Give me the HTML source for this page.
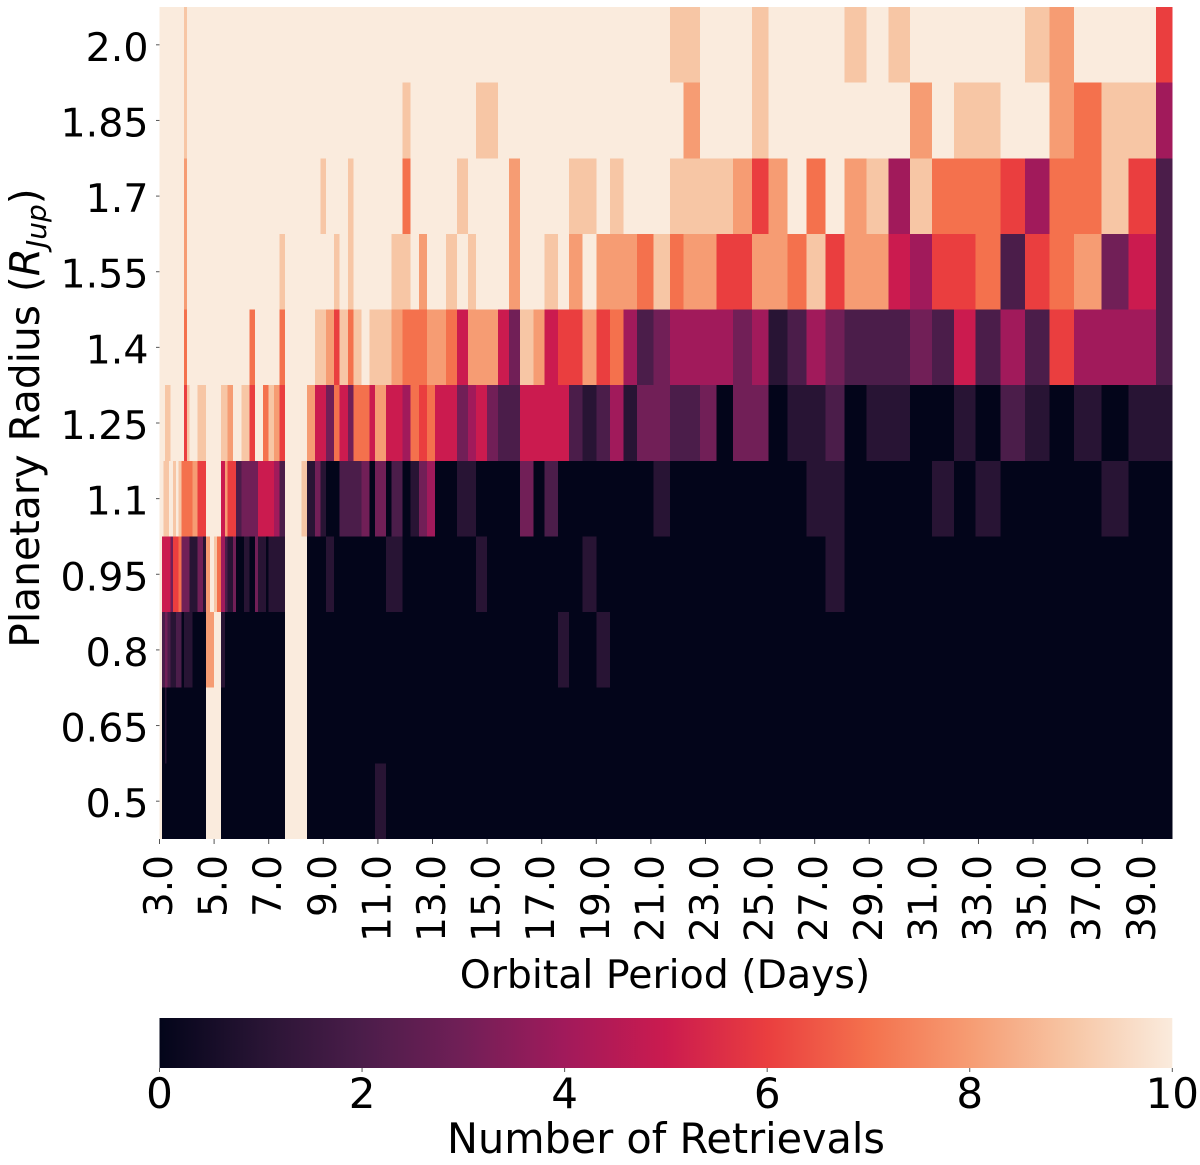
<!DOCTYPE html>
<html>
<head>
<meta charset="utf-8">
<title>Retrievals heatmap</title>
<style>
html,body{margin:0;padding:0;background:#fff;}
svg{display:block;}
text{font-family:"DejaVu Sans","Liberation Sans",sans-serif;fill:#000;}
</style>
</head>
<body>
<svg id="chart" xmlns="http://www.w3.org/2000/svg" width="1200" height="1165" viewBox="0 0 1200 1165">
  <defs>
    <linearGradient id="cbar-gradient" x1="0" y1="0" x2="1" y2="0"></linearGradient>
  </defs>
  <rect x="0" y="0" width="1200" height="1165" fill="#ffffff"/>
  <g id="cells" shape-rendering="crispEdges"></g>
  <g id="xticks"></g>
  <g id="yticks"></g>
  <text x="665" y="988" font-size="39.4" text-anchor="middle">Orbital Period (Days)</text>
  <text transform="translate(39,418) rotate(-90)" font-size="40.7" text-anchor="middle">Planetary Radius (<tspan font-style="italic">R</tspan><tspan font-style="italic" font-size="28" dy="7">Jup</tspan><tspan dy="-7">)</tspan></text>
  <rect id="cbar" x="159.5" y="1018" width="1012.8" height="50" fill="url(#cbar-gradient)"/>
  <g id="cticks"></g>
  <text x="666" y="1153" font-size="41.4" text-anchor="middle">Number of Retrievals</text>
</svg>
<script>
// Chart data: each row lists [period where a run starts, number of retrievals]; a run ends where the next begins.
const radiusLabels = ["2.0","1.85","1.7","1.55","1.4","1.25","1.1","0.95","0.8","0.65","0.5"];
const periodTicks = [3,5,7,9,11,13,15,17,19,21,23,25,27,29,31,33,35,37,39];
const colorbarTicks = [0,2,4,6,8,10];
const periodStart = 3;
const periodEnd = 40.1;
const valueMax = 10;

const row2p0 = [[3,10],[3.9,9],[4,10],[21.7,9],[22.8,10],[24.7,9],[25.3,10],[28.1,9],[28.9,10],[29.7,9],[30.5,10],[34.7,9],[35.6,8],[36.5,10],[39.5,6]];
const row1p85 = [[3,10],[3.9,9],[4,10],[11.9,9],[12.2,10],[14.6,9],[15.4,10],[22.2,8],[22.8,10],[24.7,9],[25.3,10],[30.5,8],[31.3,10],[32.1,9],[33.8,10],[35.6,8],[36.5,7],[37.5,9],[39.5,4]];
const row1p7 = [[3,10],[3.9,8],[4,10],[8.9,9],[9.1,10],[9.9,9],[10.1,10],[11.9,7],[12.2,10],[13.9,9],[14.3,10],[15.8,8],[16.2,10],[18,9],[19,10],[19.5,9],[20,10],[21.7,9],[24,8],[24.7,6],[25.3,8],[26,10],[26.7,7],[27.4,10],[28.1,8],[28.9,9],[29.7,4],[30.5,9],[31.3,7],[33.8,6],[34.7,4],[35.6,7],[37.5,9],[38.5,6],[39.5,2]];
const row1p55 = [[3,10],[3.9,8],[4,10],[7.4,9],[7.6,10],[9.4,9],[9.6,10],[9.9,9],[10.1,10],[11.5,9],[12.2,10],[12.5,8],[12.8,10],[13.5,9],[13.9,10],[14.3,9],[14.6,10],[15.8,8],[16.2,10],[17.1,9],[17.6,10],[18,8],[18.5,10],[19,8],[20.5,7],[21.1,9],[21.7,7],[22.2,8],[23.4,6],[24.7,8],[26,7],[26.7,9],[27.4,6],[28.1,8],[29.7,5],[30.5,4],[31.3,6],[32.9,7],[33.8,2],[34.7,6],[35.6,7],[36.5,8],[37.5,3],[38.5,5],[39.5,2]];
const row1p4 = [[3,10],[3.9,7],[4,10],[6.3,7],[6.5,10],[7.4,7],[7.6,10],[8.7,9],[9.1,8],[9.4,6],[9.6,9],[9.9,7],[10.1,9],[10.4,10],[10.7,9],[11.5,8],[11.9,7],[12.8,8],[13.5,7],[13.9,5],[14.3,8],[15.4,5],[15.8,3],[16.2,9],[16.7,8],[17.1,5],[17.6,6],[18.5,8],[19,6],[19.5,7],[20,4],[20.5,2],[21.1,3],[21.7,4],[24,3],[24.7,4],[25.3,1],[26,2],[26.7,4],[27.4,3],[28.1,2],[30.5,3],[31.3,2],[32.1,5],[32.9,2],[33.8,4],[34.7,2],[35.6,6],[36.5,4],[39.5,2]];
const row1p25 = [[3,10],[3.2,9],[3.4,10],[3.9,6],[4,9],[4.1,10],[4.4,9],[4.7,10],[5.25,9],[5.5,8],[5.7,10],[6,9],[6.3,6],[6.5,10],[6.8,7],[7,9],[7.2,8],[7.4,6],[7.6,10],[8.4,8],[8.7,5],[9.1,3],[9.4,7],[9.6,5],[9.9,3],[10.1,7],[10.7,5],[10.9,8],[11.3,5],[11.9,4],[12.2,7],[12.5,6],[12.8,7],[13.1,5],[13.9,3],[14.3,4],[14.6,5],[15,3],[15.4,2],[16.2,5],[18,2],[18.5,1],[19,2],[19.5,4],[20,1],[20.5,3],[21.7,2],[22.8,3],[23.4,0],[24,3],[25.3,0],[26,1],[27.4,2],[28.1,0],[28.9,1],[30.5,0],[32.1,1],[32.9,0],[33.8,2],[34.7,1],[35.6,0],[36.5,1],[37.5,0],[38.5,1]];
const row1p1 = [[3,10],[3.15,9],[3.35,10],[3.5,9],[3.6,10],[3.7,9],[3.8,7],[4.2,8],[4.4,6],[4.7,10],[5.25,5],[5.4,8],[5.5,6],[5.8,2],[6,3],[6.6,5],[7.2,4],[7.4,2],[7.6,10],[8.2,9],[8.4,1],[8.7,3],[8.9,1],[9.1,0],[9.6,2],[10.4,3],[10.7,0],[10.9,3],[11.3,0],[11.5,2],[11.9,0],[12.2,1],[12.5,3],[12.8,4],[13.1,0],[13.9,1],[14.6,0],[16.2,3],[16.7,0],[17.1,2],[17.6,0],[21.1,1],[21.7,0],[26.7,1],[28.1,0],[31.3,1],[32.1,0],[32.9,1],[33.8,0],[37.5,1],[38.5,0]];
const row0p95 = [[3,10],[3.1,5],[3.4,3],[3.5,6],[3.7,7],[3.8,3],[4.1,1],[4.4,3],[4.6,1],[4.7,8],[4.85,10],[5,9],[5.1,7],[5.25,4],[5.4,2],[5.5,1],[5.7,3],[5.8,0],[6.1,1],[6.3,0],[6.5,3],[6.6,1],[6.9,0],[7,1],[7.6,10],[8.4,0],[9.1,1],[9.4,0],[11.3,1],[11.9,0],[14.6,1],[15,0],[18.5,1],[19,0],[27.4,1],[28.1,0]];
const row0p8 = [[3,10],[3.1,2],[3.2,3],[3.3,2],[3.4,1],[3.6,2],[3.8,0],[3.9,1],[4.2,0],[4.7,8],[5,10],[5.25,1],[5.4,0],[7.6,10],[8.4,0],[17.6,1],[18,0],[19,1],[19.5,0]];
const row0p65 = [[3,10],[3.1,0],[3.2,1],[3.25,0],[4.7,10],[5.25,0],[7.6,10],[8.4,0]];
const row0p5 = [[3,10],[3.1,0],[4.7,10],[5.25,0],[7.6,10],[8.4,0],[10.9,1],[11.3,0]];
const heatRows = [row2p0,row1p85,row1p7,row1p55,row1p4,row1p25,row1p1,row0p95,row0p8,row0p65,row0p5];

// Colours for integer retrieval counts 0..10 (rocket map).
const paletteByValue = ["#03051a","#281434","#4b1d4a","#711f57","#a11a5b","#cb1b4f","#ea3e3f","#f4714d","#f69c73","#f7c6a5","#faebdd"];

const NS = "http://www.w3.org/2000/svg";
const plotLeft = 159.5, plotRight = 1172.3, plotTop = 7, plotBottom = 839;
function xScale(p){ return plotLeft + (p - periodStart) / (periodEnd - periodStart) * (plotRight - plotLeft); }
function rowTop(i){ return plotTop + i * (plotBottom - plotTop) / radiusLabels.length; }
function cbarScale(v){ return plotLeft + v / valueMax * (plotRight - plotLeft); }
function make(tag, attrs){
  const el = document.createElementNS(NS, tag);
  for (const k in attrs) el.setAttribute(k, attrs[k]);
  return el;
}

const cellsG = document.getElementById("cells");
heatRows.forEach(function(row, r){
  row.forEach(function(run, k){
    const x0 = xScale(run[0]);
    const x1 = xScale(k + 1 < row.length ? row[k + 1][0] : periodEnd);
    const rect = make("rect", {x: x0, y: rowTop(r), width: x1 - x0, height: rowTop(r + 1) - rowTop(r), fill: paletteByValue[run[1]]});
    
    
    cellsG.appendChild(rect);
  });
});

const xG = document.getElementById("xticks");
periodTicks.forEach(function(p){
  const x = xScale(p);
  const tick = make("line", {x1: x, x2: x, y1: 839, y2: 844, stroke: "#555", "stroke-width": 1});
  
  
  xG.appendChild(tick);
  const label = make("text", {transform: "translate(" + (x + 12.5) + ",855) rotate(-90)", "font-size": 39, "text-anchor": "end"});
  
  
  label.textContent = p.toFixed(1);
  xG.appendChild(label);
});

const yG = document.getElementById("yticks");
radiusLabels.forEach(function(t, i){
  const y = (rowTop(i) + rowTop(i + 1)) / 2;
  const tick = make("line", {x1: 156, x2: 159.5, y1: y, y2: y, stroke: "#555", "stroke-width": 1});
  
  
  yG.appendChild(tick);
  const label = make("text", {x: 148.5, y: y + 16, "font-size": 39.5, "text-anchor": "end"});
  
  
  label.textContent = t;
  yG.appendChild(label);
});

const grad = document.getElementById("cbar-gradient");
paletteByValue.forEach(function(c, v){
  grad.appendChild(make("stop", {offset: v / valueMax, "stop-color": c}));
});

const cG = document.getElementById("cticks");
colorbarTicks.forEach(function(v){
  const x = cbarScale(v);
  const tick = make("line", {x1: x, x2: x, y1: 1068, y2: 1072, stroke: "#555", "stroke-width": 1});
  
  
  cG.appendChild(tick);
  const label = make("text", {x: x, y: 1108, "font-size": 42, "text-anchor": "middle"});
  
  
  label.textContent = String(v);
  cG.appendChild(label);
});
</script>
</body>
</html>
